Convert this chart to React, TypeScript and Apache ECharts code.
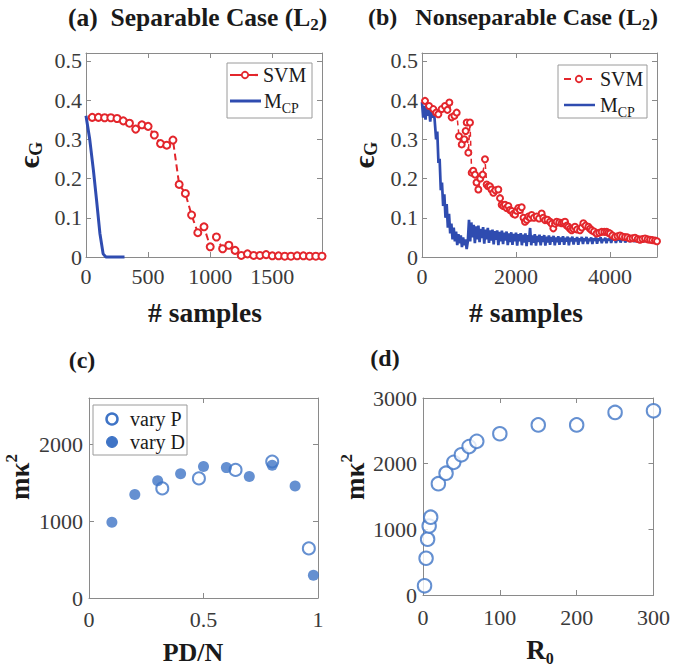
import React, { useEffect, useRef } from 'react';
import * as echarts from 'echarts';

const FONT = 'Liberation Serif';
const RED = '#e3262c';
const BLUE_LINE = '#2f4cb0';
const BLUE_DOT = '#3f74c6';
const AXIS_GRAY = '#8a8a8a';
const LABEL_GRAY = '#3a3a3a';
const TEXT_DARK = '#1a1a1a';

// ---------- (a) Separable case ----------
const svmASamples = [50, 100, 150, 200, 250, 300, 350, 400, 450, 500, 550, 600, 650, 700, 750, 800, 850, 900, 950, 1000,
  1050, 1100, 1150, 1200, 1250, 1300, 1350, 1400, 1450, 1500, 1550, 1600, 1650, 1700, 1750, 1800, 1850, 1900];
const svmAErr = [0.356, 0.356, 0.355, 0.355, 0.353, 0.347, 0.341, 0.326, 0.337, 0.333, 0.311, 0.289, 0.285, 0.298, 0.185,
  0.162, 0.107, 0.062, 0.077, 0.026, 0.051, 0.021, 0.030, 0.017, 0.004, 0.008, 0.004, 0.004, 0.006, 0.003, 0.003, 0.002,
  0.002, 0.003, 0.003, 0.002, 0.002, 0.002];
const mcpASamples = [0, 30, 60, 85, 112, 138, 160, 200, 250, 310];
const mcpAErr = [0.36, 0.30, 0.22, 0.145, 0.06, 0.008, 0, 0, 0, 0];

// ---------- (b) Nonseparable case ----------
const mcpBStep = 25;
const mcpBErr = [
  0.395, 0.355, 0.385, 0.350, 0.390, 0.360, 0.380, 0.345, 0.375, 0.355, 0.380, 0.340, 0.300, 0.320, 0.240, 0.250, 0.170, 0.190, 0.130, 0.160,
  0.100, 0.135, 0.075, 0.110, 0.060, 0.085, 0.045, 0.075, 0.040, 0.065, 0.030, 0.058, 0.035, 0.055, 0.025, 0.050, 0.030, 0.045, 0.020, 0.040,
  0.095, 0.040, 0.088, 0.050, 0.082, 0.035, 0.078, 0.045, 0.080, 0.038, 0.072, 0.048, 0.076, 0.034, 0.070, 0.045, 0.074, 0.036, 0.068, 0.042,
  0.070, 0.032, 0.066, 0.044, 0.068, 0.030, 0.064, 0.040, 0.067, 0.033, 0.062, 0.042, 0.065, 0.030, 0.060, 0.038, 0.063, 0.031, 0.059, 0.040,
  0.062, 0.029, 0.058, 0.040, 0.061, 0.030, 0.057, 0.037, 0.060, 0.028, 0.056, 0.039, 0.074, 0.030, 0.055, 0.036, 0.058, 0.029, 0.054, 0.038,
  0.057, 0.030, 0.053, 0.038, 0.056, 0.029, 0.052, 0.037, 0.055, 0.031, 0.051, 0.039, 0.054, 0.030, 0.050, 0.038, 0.053, 0.031, 0.050, 0.039,
  0.053, 0.031, 0.049, 0.039, 0.052, 0.030, 0.049, 0.040, 0.052, 0.032, 0.048, 0.040, 0.051, 0.031, 0.048, 0.041, 0.051, 0.033, 0.048, 0.041,
  0.051, 0.033, 0.047, 0.041, 0.050, 0.033, 0.047, 0.042, 0.050, 0.034, 0.047, 0.042, 0.050, 0.035, 0.046, 0.042, 0.049, 0.035, 0.046, 0.043,
  0.049, 0.036, 0.046, 0.043, 0.049, 0.036, 0.046, 0.043, 0.048, 0.037, 0.045, 0.043, 0.048, 0.037, 0.045, 0.044, 0.048, 0.038, 0.045, 0.044,
  0.047, 0.038, 0.045, 0.044, 0.047, 0.039, 0.045, 0.044, 0.047, 0.039, 0.044, 0.045, 0.046, 0.040, 0.044, 0.045, 0.046, 0.040, 0.044, 0.045,
  0.043];
const svmBSamples = [64, 150, 241, 300, 348, 418, 489, 540, 582, 631, 690, 738, 787, 845, 900, 929, 951, 986, 1021, 1057,
  1090, 1128, 1160, 1199, 1240, 1290, 1340, 1376, 1410, 1447, 1480, 1518, 1560, 1624, 1660, 1695, 1730, 1766, 1800, 1837,
  1870, 1908, 1945, 1979, 2015, 2050, 2085, 2121, 2160, 2191, 2230, 2262, 2300, 2333, 2380, 2440, 2490, 2546, 2580, 2617,
  2670, 2723, 2760, 2794, 2830, 2865, 2920, 2972, 3010, 3043, 3080, 3114, 3150, 3184, 3220, 3255, 3300, 3362, 3400, 3433,
  3480, 3539, 3575, 3610, 3660, 3716, 3770, 3823, 3880, 3929, 3965, 4000, 4050, 4106, 4160, 4213, 4260, 4319, 4370, 4425,
  4480, 4532, 4590, 4638, 4690, 4745, 4800, 4851, 4900, 4957, 5000];
const svmBErr = [0.398, 0.385, 0.377, 0.368, 0.364, 0.377, 0.385, 0.375, 0.394, 0.356, 0.360, 0.368, 0.308, 0.287, 0.300,
  0.321, 0.343, 0.266, 0.343, 0.215, 0.220, 0.210, 0.190, 0.172, 0.200, 0.210, 0.249, 0.185, 0.180, 0.180, 0.172, 0.164,
  0.170, 0.172, 0.150, 0.133, 0.130, 0.133, 0.125, 0.130, 0.120, 0.117, 0.110, 0.108, 0.118, 0.125, 0.120, 0.127, 0.100,
  0.090, 0.095, 0.103, 0.100, 0.107, 0.100, 0.103, 0.098, 0.111, 0.100, 0.094, 0.095, 0.090, 0.085, 0.073, 0.085, 0.090,
  0.088, 0.086, 0.088, 0.090, 0.080, 0.077, 0.072, 0.068, 0.072, 0.077, 0.070, 0.068, 0.075, 0.086, 0.080, 0.077, 0.072,
  0.068, 0.065, 0.060, 0.062, 0.064, 0.064, 0.064, 0.062, 0.060, 0.055, 0.051, 0.053, 0.055, 0.052, 0.051, 0.050, 0.047,
  0.048, 0.049, 0.046, 0.044, 0.046, 0.047, 0.045, 0.044, 0.043, 0.042, 0.040];

// ---------- (c) ----------
const varyPX = [0.32, 0.48, 0.64, 0.8, 0.96];
const varyPY = [1425, 1555, 1665, 1775, 645];
const varyDX = [0.1, 0.2, 0.3, 0.4, 0.5, 0.6, 0.7, 0.8, 0.9, 0.98];
const varyDY = [985, 1345, 1525, 1615, 1710, 1695, 1580, 1725, 1455, 295];

// ---------- (d) ----------
const r0 = [2, 4, 6, 8, 10, 20, 30, 40, 50, 60, 70, 100, 150, 200, 250, 300];
const mk2 = [140, 560, 850, 1050, 1185, 1695, 1855, 2020, 2135, 2260, 2340, 2455, 2590, 2590, 2780, 2805];

// axis ranges per panel: [xMin, xMax, xInterval, yMin, yMax, yInterval]
const panelRanges = [
  [0, 1900, 500, 0, 0.52, 0.1],
  [0, 5000, 2000, 0, 0.52, 0.1],
  [0, 1, 0.5, 0, 2600, 1000],
  [0, 300, 100, 0, 3000, 1000],
];
const xLabelMargins = [8, 8, 10, 11];
const yLabelMargins = [4, 4, 6, 6];

const grids = [
  { left: 86, top: 53, width: 236, height: 204 },
  { left: 422, top: 53, width: 235, height: 204 },
  { left: 89, top: 398, width: 229, height: 200 },
  { left: 423, top: 398, width: 234, height: 197 },
];

function notMultiple(max: number, interval: number) {
  const r = max / interval;
  return Math.abs(r - Math.round(r)) > 1e-6;
}

function makeAxis(kind: 'x' | 'y', gi: number, mirror: boolean) {
  const r = panelRanges[gi];
  const min = kind === 'x' ? r[0] : r[3];
  const max = kind === 'x' ? r[1] : r[4];
  const interval = kind === 'x' ? r[2] : r[5];
  return {
    type: 'value',
    gridIndex: gi,
    min,
    max,
    interval,
    position: kind === 'x' ? (mirror ? 'top' : 'bottom') : (mirror ? 'right' : 'left'),
    axisLine: { show: true, onZero: false, lineStyle: { color: AXIS_GRAY, width: 1 } },
    axisTick: { show: true, inside: true, length: 5, lineStyle: { color: AXIS_GRAY, width: 1 } },
    axisLabel: {
      show: !mirror,
      fontFamily: FONT,
      fontSize: 22,
      color: LABEL_GRAY,
      margin: kind === 'x' ? xLabelMargins[gi] : yLabelMargins[gi],
      showMaxLabel: !notMultiple(max, interval),
      formatter: (v: number) => String(Number(v.toFixed(6))),
    },
    splitLine: { show: false },
  };
}

const subRich = (size: number, sub: number, bold: boolean, mainLH: number, subLH: number) => ({
  t: { fontFamily: FONT, fontWeight: bold ? 'bold' : 'normal', fontSize: size, fill: TEXT_DARK, lineHeight: mainLH },
  s: { fontFamily: FONT, fontWeight: bold ? 'bold' : 'normal', fontSize: sub, fill: TEXT_DARK, lineHeight: subLH, verticalAlign: 'bottom' },
  p: { fontFamily: FONT, fontWeight: bold ? 'bold' : 'normal', fontSize: sub, fill: TEXT_DARK, lineHeight: subLH, verticalAlign: 'top' },
});

function richText(x: number, y: number, text: string, rich: any, align = 'left', rotation = 0) {
  return {
    type: 'text',
    x,
    y,
    rotation,
    z: 100,
    style: {
      text,
      rich,
      align,
      textAlign: align,
      verticalAlign: 'middle',
      textVerticalAlign: 'middle',
    },
  };
}

function plainText(x: number, y: number, text: string, size: number, bold: boolean, align = 'center', rotation = 0) {
  return {
    type: 'text',
    x,
    y,
    rotation,
    z: 100,
    style: {
      text,
      fontFamily: FONT,
      fontSize: size,
      fontWeight: bold ? 'bold' : 'normal',
      fill: TEXT_DARK,
      align,
      textAlign: align,
      verticalAlign: 'middle',
      textVerticalAlign: 'middle',
    },
  };
}

function legendBox(x: number, y: number, w: number, h: number) {
  return {
    type: 'rect',
    z: 99,
    shape: { x, y, width: w, height: h },
    style: { fill: '#fff', stroke: '#9a9a9a', lineWidth: 1 },
  };
}

function seg(x1: number, x2: number, y: number, color: string, width: number, dash?: number[]) {
  return {
    type: 'line',
    z: 100,
    shape: { x1, y1: y, x2, y2: y },
    style: { stroke: color, lineWidth: width, lineDash: dash },
  };
}

function marker(cx: number, cy: number, r: number, color: string, filled: boolean, lw: number) {
  return {
    type: 'circle',
    z: 101,
    shape: { cx, cy, r },
    style: { fill: filled ? color : '#fff', stroke: color, lineWidth: lw },
  };
}

export default function App() {
  const ref = useRef<HTMLDivElement>(null);

  useEffect(() => {
    document.body.style.margin = '0';
    if (!ref.current) return;
    const chart = echarts.init(ref.current, null, { renderer: 'svg' });

    const xAxis = [0, 1, 2, 3].map((g) => makeAxis('x', g, false)).concat([0, 1, 2, 3].map((g) => makeAxis('x', g, true)));
    const yAxis = [0, 1, 2, 3].map((g) => makeAxis('y', g, false)).concat([0, 1, 2, 3].map((g) => makeAxis('y', g, true)));

    const titleRichA = subRich(25.5, 17, true, 32, 6);
    const titleRichB = subRich(24, 16, true, 31, 6);
    const legRich = subRich(20, 14, false, 28, 4);
    const epsRich = subRich(30, 18, true, 34, 6);
    const r0Rich = subRich(27, 16, true, 32, 6);
    const mkRich = subRich(27, 17, true, 34, 6);

    const graphic = [
      richText(68, 17, '{t|(a)\u00a0\u00a0Separable Case (L}{s|2}{t|)}', titleRichA),
      richText(368, 17, '{t|(b)\u00a0\u00a0\u00a0Nonseparable Case (L}{s|2}{t|)}', titleRichB),
      plainText(82, 360, '(c)', 24, true),
      plainText(385, 358, '(d)', 24, true),
      richText(28, 155, '{t|ϵ}{s|G}', epsRich, 'center', Math.PI / 2),
      richText(363, 155, '{t|ϵ}{s|G}', epsRich, 'center', Math.PI / 2),
      plainText(205, 312, '# samples', 27.5, true),
      plainText(526, 312, '# samples', 27.5, true),
      richText(20, 477, '{t|mκ}{p|2}', mkRich, 'center', Math.PI / 2),
      richText(355, 477, '{t|mκ}{p|2}', mkRich, 'center', Math.PI / 2),
      plainText(193, 652, 'PD/N', 26, true),
      richText(540, 650, '{t|R}{s|0}', r0Rich, 'center'),

      // legend (a)
      legendBox(227, 63, 85, 55),
      seg(230, 258, 75, RED, 2.2, [12, 4]),
      marker(245, 75, 3.2, RED, false, 1.8),
      plainText(263, 75, 'SVM', 20, false, 'left'),
      seg(230, 261, 101, BLUE_LINE, 3),
      richText(264, 101, '{t|M}{s|CP}', legRich),

      // legend (b)
      legendBox(558, 65, 89, 53),
      seg(564, 592, 79, RED, 2, [7, 4]),
      marker(579, 79, 3.2, RED, false, 1.8),
      plainText(600, 79, 'SVM', 20, false, 'left'),
      seg(564, 595, 105, BLUE_LINE, 2.5),
      richText(600, 105, '{t|M}{s|CP}', legRich),

      // legend (c)
      legendBox(93, 405, 94, 50),
      marker(112, 419, 5.5, BLUE_DOT, false, 2.5),
      plainText(130, 419, 'vary P', 20, false, 'left'),
      marker(112, 442, 5.5, BLUE_DOT, true, 1),
      plainText(130, 442, 'vary D', 20, false, 'left'),
    ];

    const series: any[] = [
      {
        name: 'MCP (a)',
        type: 'line',
        xAxisIndex: 0,
        yAxisIndex: 0,
        data: mcpASamples.map((x, i) => [x, mcpAErr[i]]),
        symbol: 'none',
        showSymbol: false,
        clip: false,
        lineStyle: { color: BLUE_LINE, width: 3 },
        itemStyle: { color: BLUE_LINE },
      },
      {
        name: 'SVM (a)',
        type: 'line',
        xAxisIndex: 0,
        yAxisIndex: 0,
        data: svmASamples.map((x, i) => [x, svmAErr[i]]),
        symbol: 'emptyCircle',
        symbolSize: 7,
        showSymbol: true,
        showAllSymbol: true,
        clip: false,
        lineStyle: { color: RED, width: 2, type: [7, 4] },
        itemStyle: { color: RED, borderColor: RED, borderWidth: 1.8 },
      },
      {
        name: 'MCP (b)',
        type: 'line',
        xAxisIndex: 1,
        yAxisIndex: 1,
        data: mcpBErr.map((v, i) => [i * mcpBStep, v]),
        symbol: 'none',
        showSymbol: false,
        clip: false,
        lineStyle: { color: BLUE_LINE, width: 2.7 },
        itemStyle: { color: BLUE_LINE },
      },
      {
        name: 'SVM (b)',
        type: 'line',
        xAxisIndex: 1,
        yAxisIndex: 1,
        data: svmBSamples.map((x, i) => [x, svmBErr[i]]),
        symbol: 'emptyCircle',
        symbolSize: 6,
        showSymbol: true,
        showAllSymbol: true,
        clip: false,
        lineStyle: { color: RED, width: 1.5, type: [5, 4] },
        itemStyle: { color: RED, borderColor: RED, borderWidth: 1.6 },
      },
      {
        name: 'vary P',
        type: 'scatter',
        xAxisIndex: 2,
        yAxisIndex: 2,
        data: varyPX.map((x, i) => [x, varyPY[i]]),
        symbol: 'emptyCircle',
        symbolSize: 12,
        clip: false,
        itemStyle: { color: BLUE_DOT, borderColor: BLUE_DOT, borderWidth: 2.6 },
      },
      {
        name: 'vary D',
        type: 'scatter',
        xAxisIndex: 2,
        yAxisIndex: 2,
        data: varyDX.map((x, i) => [x, varyDY[i]]),
        symbol: 'circle',
        symbolSize: 11,
        clip: false,
        itemStyle: { color: BLUE_DOT },
      },
      {
        name: 'R0',
        type: 'scatter',
        xAxisIndex: 3,
        yAxisIndex: 3,
        data: r0.map((x, i) => [x, mk2[i]]),
        symbol: 'emptyCircle',
        symbolSize: 13.5,
        clip: false,
        itemStyle: { color: BLUE_DOT, borderColor: BLUE_DOT, borderWidth: 2.8 },
      },
    ];

    chart.setOption({
      animation: false,
      backgroundColor: '#ffffff',
      grid: grids.map((g) => ({ ...g, containLabel: false })),
      xAxis,
      yAxis,
      series,
      graphic,
    });

    return () => chart.dispose();
  }, []);

  return <div ref={ref} style={{ width: 673, height: 668 }} />;
}
